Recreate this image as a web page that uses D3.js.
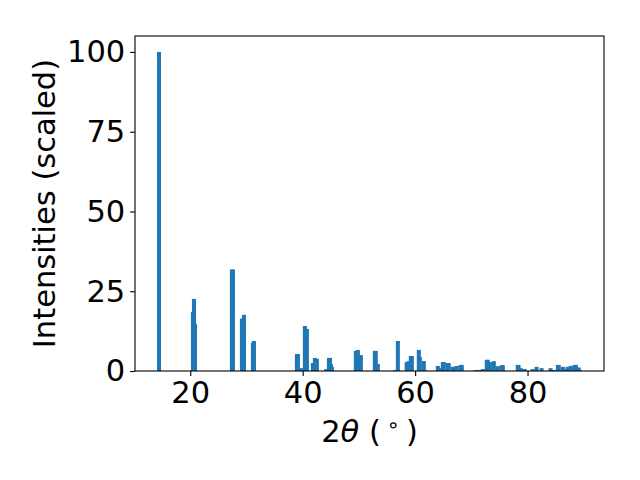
<!DOCTYPE html>
<html>
<head>
<meta charset="utf-8">
<script src="https://cdn.jsdelivr.net/npm/d3@7"></script>
<style>
html,body{margin:0;padding:0;background:#fff;}
svg{display:block;}
text{font-family:"DejaVu Sans",sans-serif;}
</style>
</head>
<body>
<svg id="chart" width="640" height="480"></svg>
<script>
const twoTheta = [14.44,20.48,20.66,20.84,27.41,27.59,29.19,29.55,31.15,31.33,
  38.97,39.15,39.68,40.39,40.75,41.82,42.17,42.52,44.2,44.67,44.85,45.02,45.2,
  49.46,49.82,50.35,52.84,53.0,53.37,56.45,56.93,58.5,58.88,59.24,59.42,
  60.66,60.84,61.55,61.72,64.04,64.22,64.93,65.1,65.8,65.98,66.7,66.88,67.4,
  68.12,68.3,70.8,71.33,72.04,72.75,72.93,73.3,74.0,74.7,75.4,75.6,
  78.26,78.4,78.8,79.5,80.9,81.6,82.5,84.1,84.7,85.4,85.55,86.3,86.8,87.15,
  87.7,88.4,88.6,89.1,89.3];
const intensity = [100,18.5,22.6,14.8,31.8,31.8,16.4,17.6,8.8,9.4,
  5.3,5.3,0.9,14.1,13.2,2.5,4.1,3.8,0.6,4.1,4.1,2.2,1.3,
  6.3,6.6,5.0,6.3,6.3,2.2,0.3,9.4,2.8,3.1,4.7,4.7,
  6.6,4.4,3.1,0.3,1.6,0.9,2.8,2.8,2.5,2.5,1.3,1.3,1.6,
  1.9,1.9,0.3,0.3,0.6,3.5,3.5,2.8,3.1,1.5,1.8,1.8,
  1.9,1.9,0.9,0.6,0.6,1.3,0.9,0.9,0.3,1.9,1.9,1.3,0.6,1.3,
  1.6,1.9,1.9,1.1,0.3];
const xTicks = [20,40,60,80];
const yTicks = [0,25,50,75,100];
const barWidth = 0.72;

const svg = d3.select("#chart");
const L = 135, R = 604, T = 36, B = 371;
const x = d3.scaleLinear().domain([10.17, 93.6]).range([L, R]);
const y = d3.scaleLinear().domain([0, 105]).range([B, T]);

const data = twoTheta.map((t, i) => ({t, v: intensity[i]}));

svg.append("g").selectAll("rect").data(data).enter().append("rect")
  .attr("x", d => x(d.t - barWidth/2))
  .attr("width", d => x(d.t + barWidth/2) - x(d.t - barWidth/2))
  .attr("y", d => y(d.v))
  .attr("height", d => y(0) - y(d.v))
  .attr("fill", "#1f77b4");

const fs = 30.5;
const xAxis = d3.axisBottom(x).tickValues(xTicks).tickSize(4.9).tickPadding(4.9).tickFormat(d3.format("d"));
const gx = svg.append("g").attr("transform", `translate(0,${B})`).call(xAxis);
const yAxis = d3.axisLeft(y).tickValues(yTicks).tickSize(4.9).tickPadding(4.9).tickFormat(d3.format("d"));
const gy = svg.append("g").attr("transform", `translate(${L},0)`).call(yAxis);
[gx, gy].forEach(g => {
  g.select(".domain").remove();
  g.selectAll(".tick line").attr("stroke", "#000").attr("stroke-width", 1.1);
  g.selectAll(".tick text").attr("fill", "#000").attr("font-size", fs)
    .attr("font-family", "DejaVu Sans");
});
gx.selectAll(".tick text").attr("y", 32).attr("dy", 0);

svg.append("rect").attr("x", L).attr("y", T).attr("width", R - L).attr("height", B - T)
  .attr("fill", "none").attr("stroke", "#000").attr("stroke-width", 1.1);

const xl = svg.append("text").attr("x", (L + R) / 2).attr("y", 442)
  .attr("text-anchor", "middle").attr("font-size", fs).attr("fill", "#000");
xl.append("tspan").text("2");
xl.append("tspan").attr("font-style", "italic").text("θ");
xl.append("tspan").text(" (");
xl.append("tspan").attr("font-size", 21).attr("dx", 6).attr("dy", -10).text("∘");
xl.append("tspan").attr("dx", 6).attr("dy", 10).text(")");

svg.append("text")
  .attr("transform", `translate(55,${(T + B) / 2}) rotate(-90)`)
  .attr("text-anchor", "middle").attr("font-size", fs).attr("fill", "#000")
  .text("Intensities (scaled)");
</script>
</body>
</html>
